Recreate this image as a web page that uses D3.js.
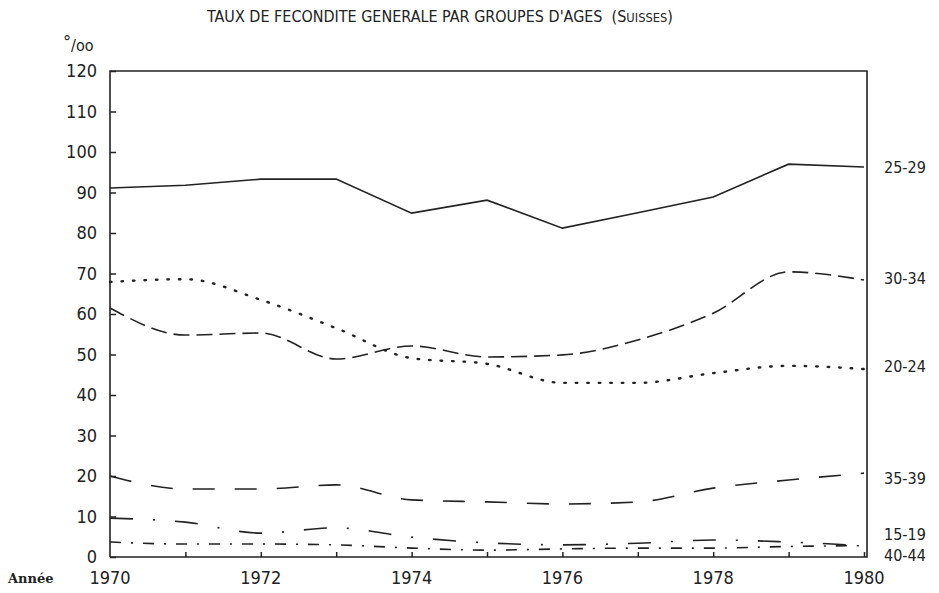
<!DOCTYPE html>
<html>
<head>
<meta charset="utf-8">
<script src="https://cdn.jsdelivr.net/npm/d3@7"></script>
<style>
  body { margin: 0; background: #fff; }
  svg { display: block; }
  text { fill: #222; }
  .cond { font-stretch: condensed; }
</style>
</head>
<body>
<svg id="chart" width="939" height="593"></svg>
<script>
const years = [1970, 1971, 1972, 1973, 1974, 1975, 1976, 1977, 1978, 1979, 1980];
const xTicks = [1970, 1972, 1974, 1976, 1978, 1980];
const yTicks = [0, 10, 20, 30, 40, 50, 60, 70, 80, 90, 100, 110, 120];

// taux pour mille
const age2529 = [91.1, 91.8, 93.3, 93.3, 84.9, 88.1, 81.2, 85.0, 88.9, 97.0, 96.3];
const age3034 = [61.5, 54.8, 55.3, 48.9, 52.1, 49.4, 49.9, 53.6, 60.2, 70.4, 68.4];
const age2024 = [67.9, 68.6, 63.5, 56.5, 49.1, 47.7, 43.0, 43.0, 45.4, 47.2, 46.4];
const age3539 = [20.0, 16.8, 16.8, 17.8, 14.1, 13.6, 13.1, 13.6, 17.0, 19.0, 20.7];
const age1519 = [9.6, 8.6, 5.9, 7.2, 4.9, 3.5, 3.0, 3.4, 4.2, 3.7, 2.8];
const age4044 = [3.7, 3.2, 3.2, 3.0, 2.2, 1.7, 2.0, 2.2, 2.2, 2.6, 2.8];

const series = [
  { name: "25-29", values: age2529, dash: null, curve: d3.curveLinear, labelY: 96.3 },
  { name: "30-34", values: age3034, dash: "16,7", curve: d3.curveMonotoneX, labelY: 68.8 },
  { name: "20-24", values: age2024, dash: "1.5,10", curve: d3.curveMonotoneX, labelY: 47.2 },
  { name: "35-39", values: age3539, dash: "22,20", curve: d3.curveMonotoneX, labelY: 19.6 },
  { name: "15-19", values: age1519, dash: "23,20,2,20", curve: d3.curveMonotoneX, labelY: 5.6 },
  { name: "40-44", values: age4044, dash: "11,10,2,10", curve: d3.curveMonotoneX, labelY: 0.5 }
];

const svg = d3.select("#chart");
const font = "'DejaVu Sans', sans-serif";

const x = d3.scaleLinear().domain([1970, 1980]).range([110, 864]);
const y = d3.scaleLinear().domain([0, 120]).range([557, 71]);

// cadre
svg.append("path")
  .attr("d", `M${x(1970)},${y(0)}V${y(120)}H867V${y(0)}H${x(1970)}`)
  .attr("fill", "none")
  .attr("stroke", "#222")
  .attr("stroke-width", 1.6);

// axe y
const yAxis = svg.append("g")
  .attr("transform", `translate(${x(1970)},0)`)
  .call(d3.axisRight(y).tickValues(yTicks).tickSize(6).tickFormat(""));
yAxis.select(".domain").remove();
yAxis.selectAll(".tick line").attr("stroke", "#222").attr("stroke-width", 1.5);

svg.append("g").selectAll("text")
  .data(yTicks)
  .join("text")
  .attr("class", "cond")
  .attr("x", 97)
  .attr("y", d => y(d) + 6)
  .attr("text-anchor", "end")
  .attr("font-family", font)
  .attr("font-size", 18)
  .text(d => d);

// axe x
const xAxis = svg.append("g")
  .attr("transform", `translate(0,${y(0)})`)
  .call(d3.axisTop(x).tickValues(years.slice(1)).tickSize(5).tickFormat(""));
xAxis.select(".domain").remove();
xAxis.selectAll(".tick line").attr("stroke", "#222").attr("stroke-width", 1.5);

svg.append("g").selectAll("text")
  .data(xTicks)
  .join("text")
  .attr("class", "cond")
  .attr("x", d => x(d))
  .attr("y", 584)
  .attr("text-anchor", "middle")
  .attr("font-family", font)
  .attr("font-size", 18)
  .text(d => d);

svg.append("text")
  .attr("x", 8).attr("y", 583)
  .attr("font-family", "'DejaVu Serif', serif")
  .attr("font-size", 13)
  .attr("font-weight", "bold")
  .text("Année");

// unité : degré surélevé puis /oo
const unit = svg.append("text")
  .attr("class", "cond")
  .attr("x", 63).attr("y", 51)
  .attr("font-family", font)
  .attr("font-size", 16);
unit.append("tspan").attr("dy", -3).attr("font-size", 18).text("°");
unit.append("tspan").attr("dy", 3).text("/oo");

// titre
const title = svg.append("text")
  .attr("class", "cond")
  .attr("x", 207).attr("y", 22)
  .attr("font-family", font)
  .attr("font-size", 15)
  .attr("textLength", 466)
  .attr("lengthAdjust", "spacingAndGlyphs");
title.append("tspan").text("TAUX DE FECONDITE GENERALE PAR GROUPES D'AGES\u00a0\u00a0(S");
title.append("tspan").attr("font-size", 12).text("UISSES");
title.append("tspan").text(")");

// courbes
const line = d3.line()
  .x((d, i) => x(years[i]))
  .y(d => y(d));

svg.append("g").selectAll("path")
  .data(series)
  .join("path")
  .attr("fill", "none")
  .attr("stroke", "#222")
  .attr("stroke-width", d => d.dash === "1.5,10" ? 2.4 : 1.6)
  .attr("stroke-linecap", d => d.dash === "1.5,10" ? "round" : "butt")
  .attr("stroke-dasharray", d => d.dash)
  .attr("d", d => line.curve(d.curve)(d.values));

// étiquettes à droite
svg.append("g").selectAll("text")
  .data(series)
  .join("text")
  .attr("class", "cond")
  .attr("x", 884)
  .attr("y", d => y(d.labelY) + 6)
  .attr("font-family", font)
  .attr("font-size", 16)
  .text(d => d.name);
</script>
</body>
</html>
